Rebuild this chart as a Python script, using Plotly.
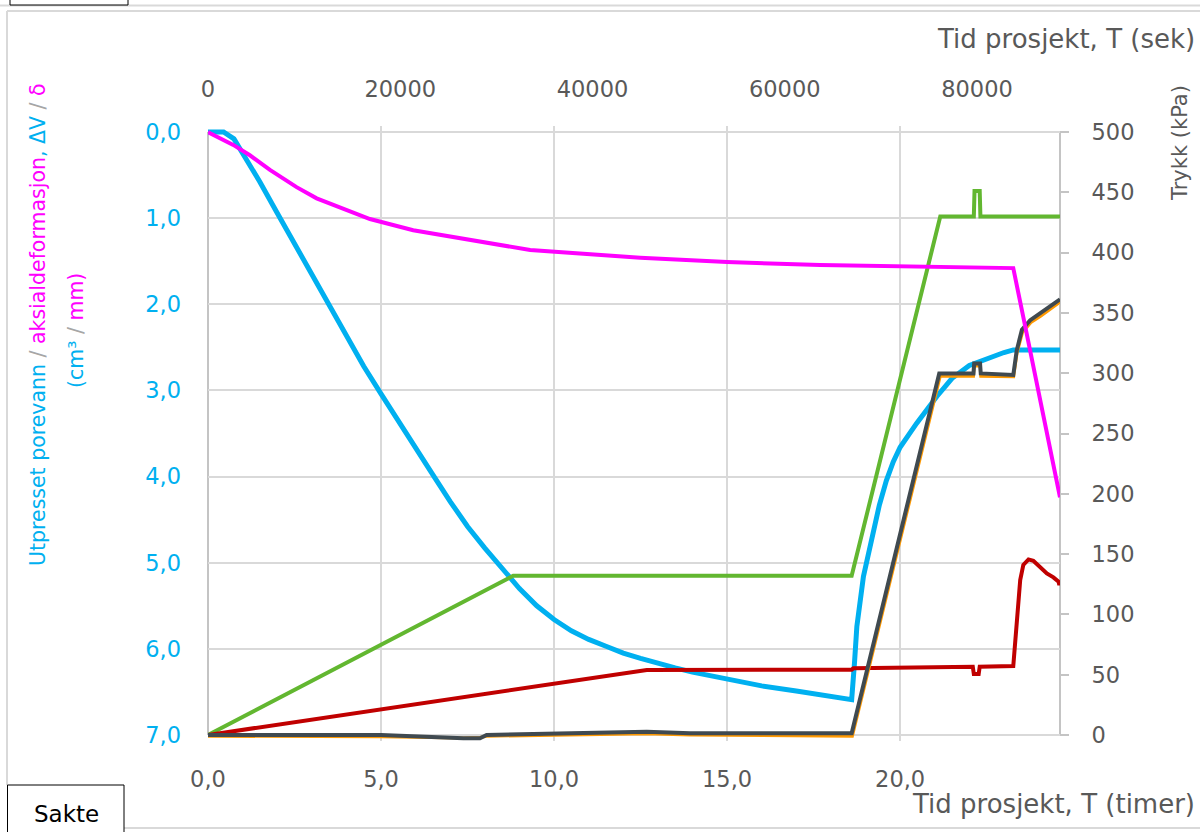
import plotly.graph_objects as go

# Utpresset porevann, dV (cm3) - venstre akse
dv_t = [0, 0.45, 0.75, 1.0, 1.5, 2.0, 2.5, 3.0, 3.5, 4.0, 4.5, 5.0, 5.5, 6.0, 6.5, 7.0,
        7.5, 8.0, 8.5, 9.0, 9.5, 10.0, 10.5, 11.0, 11.5, 12.0, 12.5, 13.0, 13.5, 14.0,
        14.5, 15.0, 16.0, 17.0, 18.0, 18.6, 18.68, 18.75, 18.94, 19.04, 19.23, 19.4,
        19.6, 19.8, 20.0, 20.48, 21.06, 21.5, 22.0, 22.5, 23.0, 23.27, 24.62]
dv_v = [0.0, 0.0, 0.08, 0.24, 0.58, 0.94, 1.30, 1.66, 2.02, 2.38, 2.72, 3.04, 3.36, 3.67,
        3.98, 4.29, 4.58, 4.83, 5.06, 5.30, 5.50, 5.66, 5.79, 5.89, 5.97, 6.05, 6.11, 6.17,
        6.22, 6.27, 6.31, 6.36, 6.43, 6.49, 6.55, 6.59, 6.17, 5.74, 5.16, 4.97, 4.62, 4.33,
        4.05, 3.83, 3.66, 3.38, 3.07, 2.86, 2.71, 2.63, 2.56, 2.53, 2.53]

# Aksialdeformasjon, delta (mm) - venstre akse
ax_t = [0, 0.06, 0.73, 1.21, 1.79, 2.56, 3.14, 3.91, 4.68, 5.93, 7.48, 9.31, 12.49, 15.0,
        17.69, 19.97, 23.27, 23.56, 23.85, 24.14, 24.43, 24.62]
ax_v = [0, 0.015, 0.15, 0.27, 0.44, 0.64, 0.77, 0.89, 1.01, 1.14, 1.25, 1.37, 1.46, 1.51,
        1.545, 1.56, 1.58, 2.15, 2.73, 3.31, 3.85, 4.24]

# Trykk (kPa) - hoyre akse
green_t = [0, 8.82, 18.60, 21.16, 22.13, 22.15, 22.30, 22.32, 24.62]
green_v = [0, 132, 132, 430, 430, 451, 451, 430, 430]

red_t = [0, 12.68, 18.60, 18.65, 22.10, 22.13, 22.27, 22.30, 23.27, 23.37, 23.42, 23.47,
         23.56, 23.71, 23.85, 24.05, 24.24, 24.43, 24.53, 24.58, 24.60, 24.62]
red_v = [0, 53.9, 54.2, 55.3, 56.6, 50.6, 50.6, 56.6, 57.2, 95.4, 114.7, 128.5,
         141.0, 145.6, 144.5, 139.5, 134.0, 130.7, 128.5, 127.1, 124.4, 127.0]

grey_t = [0, 5.0, 7.38, 7.86, 8.05, 12.68, 13.93, 18.60, 21.13, 22.12, 22.14, 22.31, 22.33,
          23.27, 23.37, 23.52, 23.76, 24.05, 24.62]
grey_v = [0, 0, -2.7, -2.7, 0, 2.7, 1.4, 1.4, 299.8, 299.8, 308, 308, 299.8,
          298.5, 319, 336, 344, 349.6, 361.3]

orange_t = [0, 5.0, 7.38, 7.86, 8.05, 12.68, 13.93, 18.62, 21.16, 22.12, 22.14, 22.31, 22.33,
            23.28, 23.38, 23.54, 23.78, 24.07, 24.62]
orange_v = [-1.0, -1.5, -2.5, -2.0, -1.0, 1.0, 0.0, -1.0, 297.5, 297.5, 306, 306, 297.5,
            297.0, 317, 334, 342, 347.5, 359.0]

hour_ticks = [0, 5, 10, 15, 20]
hour_labels = ["0,0", "5,0", "10,0", "15,0", "20,0"]
sec_ticks = [0, 20000, 40000, 60000, 80000]
sec_labels = ["0", "20000", "40000", "60000", "80000"]
left_ticks = [0, 1, 2, 3, 4, 5, 6, 7]
left_labels = ["0,0", "1,0", "2,0", "3,0", "4,0", "5,0", "6,0", "7,0"]
right_ticks = [0, 50, 100, 150, 200, 250, 300, 350, 400, 450, 500]
right_labels = ["0", "50", "100", "150", "200", "250", "300", "350", "400", "450", "500"]

T_MAX = 24.62
FONT = "DejaVu Sans"
GREY = "#595959"
CYAN = "#00B0F0"
MAGENTA = "#FF00FF"
AXLINE = "#C4C4C4"
GRID = "#D9D9D9"

# axis frame in pixels; the plot area is a few px larger so lines at the edges are not cut
L, R, TOP, BOT = 208, 1060, 132, 735
PAD = 6
PT, PB = TOP - PAD, BOT + PAD
left_pad = PAD * 7 / (BOT - TOP)
right_pad = PAD * 500 / (BOT - TOP)


def px(x):
    return (x - L) / (R - L)


def py(y):
    return (PB - y) / (PB - PT)


fig = go.Figure()
fig.add_trace(go.Scatter(x=dv_t, y=dv_v, mode="lines", name="dV",
                         line=dict(color=CYAN, width=5), yaxis="y"))
fig.add_trace(go.Scatter(x=green_t, y=green_v, mode="lines", name="celletrykk",
                         line=dict(color="#62B730", width=4), yaxis="y2"))
fig.add_trace(go.Scatter(x=red_t, y=red_v, mode="lines", name="poretrykk",
                         line=dict(color="#C00000", width=4), yaxis="y2"))
fig.add_trace(go.Scatter(x=orange_t, y=orange_v, mode="lines", name="mottrykk",
                         line=dict(color="#FF9900", width=3), yaxis="y2"))
fig.add_trace(go.Scatter(x=grey_t, y=grey_v, mode="lines", name="baktrykk",
                         line=dict(color="#404A50", width=4), yaxis="y2"))
fig.add_trace(go.Scatter(x=ax_t, y=ax_v, mode="lines", name="delta",
                         line=dict(color=MAGENTA, width=4), yaxis="y3"))
# dummy trace so the seconds axis is drawn
fig.add_trace(go.Scatter(x=[0, T_MAX * 3600], y=[None, None], xaxis="x2", yaxis="y",
                         showlegend=False, hoverinfo="skip"))

tick_font = dict(family=FONT, size=22.5, color=GREY)

fig.update_layout(
    width=1200, height=832,
    margin=dict(l=L, r=1200 - R, t=PT, b=832 - PB, pad=0),
    paper_bgcolor="white", plot_bgcolor="white",
    showlegend=False,
    font=dict(family=FONT, color=GREY),
    xaxis=dict(range=[0, T_MAX], tickvals=hour_ticks, ticktext=hour_labels,
               showgrid=True, gridcolor=GRID, gridwidth=2, zeroline=False,
               showline=False, ticks="", ticklabelstandoff=28 - PAD, tickfont=tick_font),
    xaxis2=dict(range=[0, T_MAX * 3600], overlaying="x", side="top", anchor="y",
                tickvals=sec_ticks, ticktext=sec_labels, showgrid=False, zeroline=False,
                showline=False, ticks="", ticklabelstandoff=30 - PAD, tickfont=tick_font),
    yaxis=dict(range=[7 + left_pad, -left_pad], tickvals=left_ticks, ticktext=left_labels,
               showgrid=True, gridcolor=GRID, gridwidth=2, zeroline=False,
               showline=False, ticks="", ticklabelstandoff=26,
               tickfont=dict(family=FONT, size=22.5, color=CYAN)),
    yaxis2=dict(range=[-right_pad, 500 + right_pad], overlaying="y", side="right", anchor="x",
                tickvals=right_ticks, ticktext=right_labels, showgrid=False, zeroline=False,
                showline=False, ticks="outside", ticklen=8, tickwidth=2, tickcolor=AXLINE,
                ticklabelstandoff=18, tickfont=tick_font),
    yaxis3=dict(range=[7 + left_pad, -left_pad], overlaying="y", visible=False),
)

# axis frame lines
for x0, y0, x1, y1 in [(L, TOP, L, BOT), (R, TOP, R, BOT), (L, TOP, R + 8, TOP), (L, BOT, R + 8, BOT)]:
    fig.add_shape(type="line", xref="paper", yref="paper", layer="below",
                  x0=px(x0), y0=py(y0), x1=px(x1), y1=py(y1),
                  line=dict(color=AXLINE, width=2))

title_font = dict(family=FONT, size=26, color=GREY)
fig.add_annotation(x=px(1197), y=py(39), xref="paper", yref="paper", showarrow=False,
                   xanchor="right", yanchor="middle", text="Tid prosjekt, T (sek)", font=title_font)
fig.add_annotation(x=px(1197), y=py(804), xref="paper", yref="paper", showarrow=False,
                   xanchor="right", yanchor="middle", text="Tid prosjekt, T (timer)", font=title_font)
fig.add_annotation(x=px(1180), y=py(143), xref="paper", yref="paper", showarrow=False,
                   xanchor="center", yanchor="middle", textangle=-90, text="Trykk (kPa)",
                   font=dict(family=FONT, size=21, color=GREY))

SL = "#A6A6A6"
line1 = (f'<span style="color:{CYAN}">Utpresset porevann</span>'
         f'<span style="color:{SL}"> / </span>'
         f'<span style="color:{MAGENTA}">aksialdeformasjon</span>'
         f'<span style="color:{CYAN}">, ΔV</span>'
         f'<span style="color:{SL}"> / </span>'
         f'<span style="color:{MAGENTA}">δ</span>')
line2 = (f'<span style="color:{CYAN}">(cm³</span>'
         f'<span style="color:{SL}"> / </span>'
         f'<span style="color:{MAGENTA}">mm)</span>')
fig.add_annotation(x=px(38), y=py(325), xref="paper", yref="paper", showarrow=False,
                   xanchor="center", yanchor="middle", textangle=-90, text=line1,
                   font=dict(family=FONT, size=20.5))
fig.add_annotation(x=px(76), y=py(331), xref="paper", yref="paper", showarrow=False,
                   xanchor="center", yanchor="middle", textangle=-90, text=line2,
                   font=dict(family=FONT, size=20.5))

# panel frame around the chart
frame = "#D9D9D9"
fig.add_shape(type="line", xref="paper", yref="paper", x0=px(0), x1=px(1200), y0=py(5.5), y1=py(5.5),
              line=dict(color=frame, width=2))
fig.add_shape(type="line", xref="paper", yref="paper", x0=px(7), x1=px(1200), y0=py(11), y1=py(11),
              line=dict(color=frame, width=2))
fig.add_shape(type="line", xref="paper", yref="paper", x0=px(7), x1=px(7), y0=py(11), y1=py(785),
              line=dict(color=frame, width=2))
fig.add_shape(type="line", xref="paper", yref="paper", x0=px(124), x1=px(1200), y0=py(828), y1=py(828),
              line=dict(color=frame, width=2))
fig.add_shape(type="rect", xref="paper", yref="paper", x0=px(10), x1=px(128), y0=py(-5), y1=py(5),
              line=dict(color="black", width=1), fillcolor="white")
fig.add_shape(type="rect", xref="paper", yref="paper", x0=px(7.5), x1=px(124), y0=py(785), y1=py(845),
              line=dict(color="black", width=1), fillcolor="white")
fig.add_annotation(x=px(66), y=py(814), xref="paper", yref="paper", showarrow=False,
                   xanchor="center", yanchor="middle", text="Sakte",
                   font=dict(family=FONT, size=23, color="black"))

fig.write_html("out.html", config={"displayModeBar": False},
               post_script="document.body.style.margin='0px';")
